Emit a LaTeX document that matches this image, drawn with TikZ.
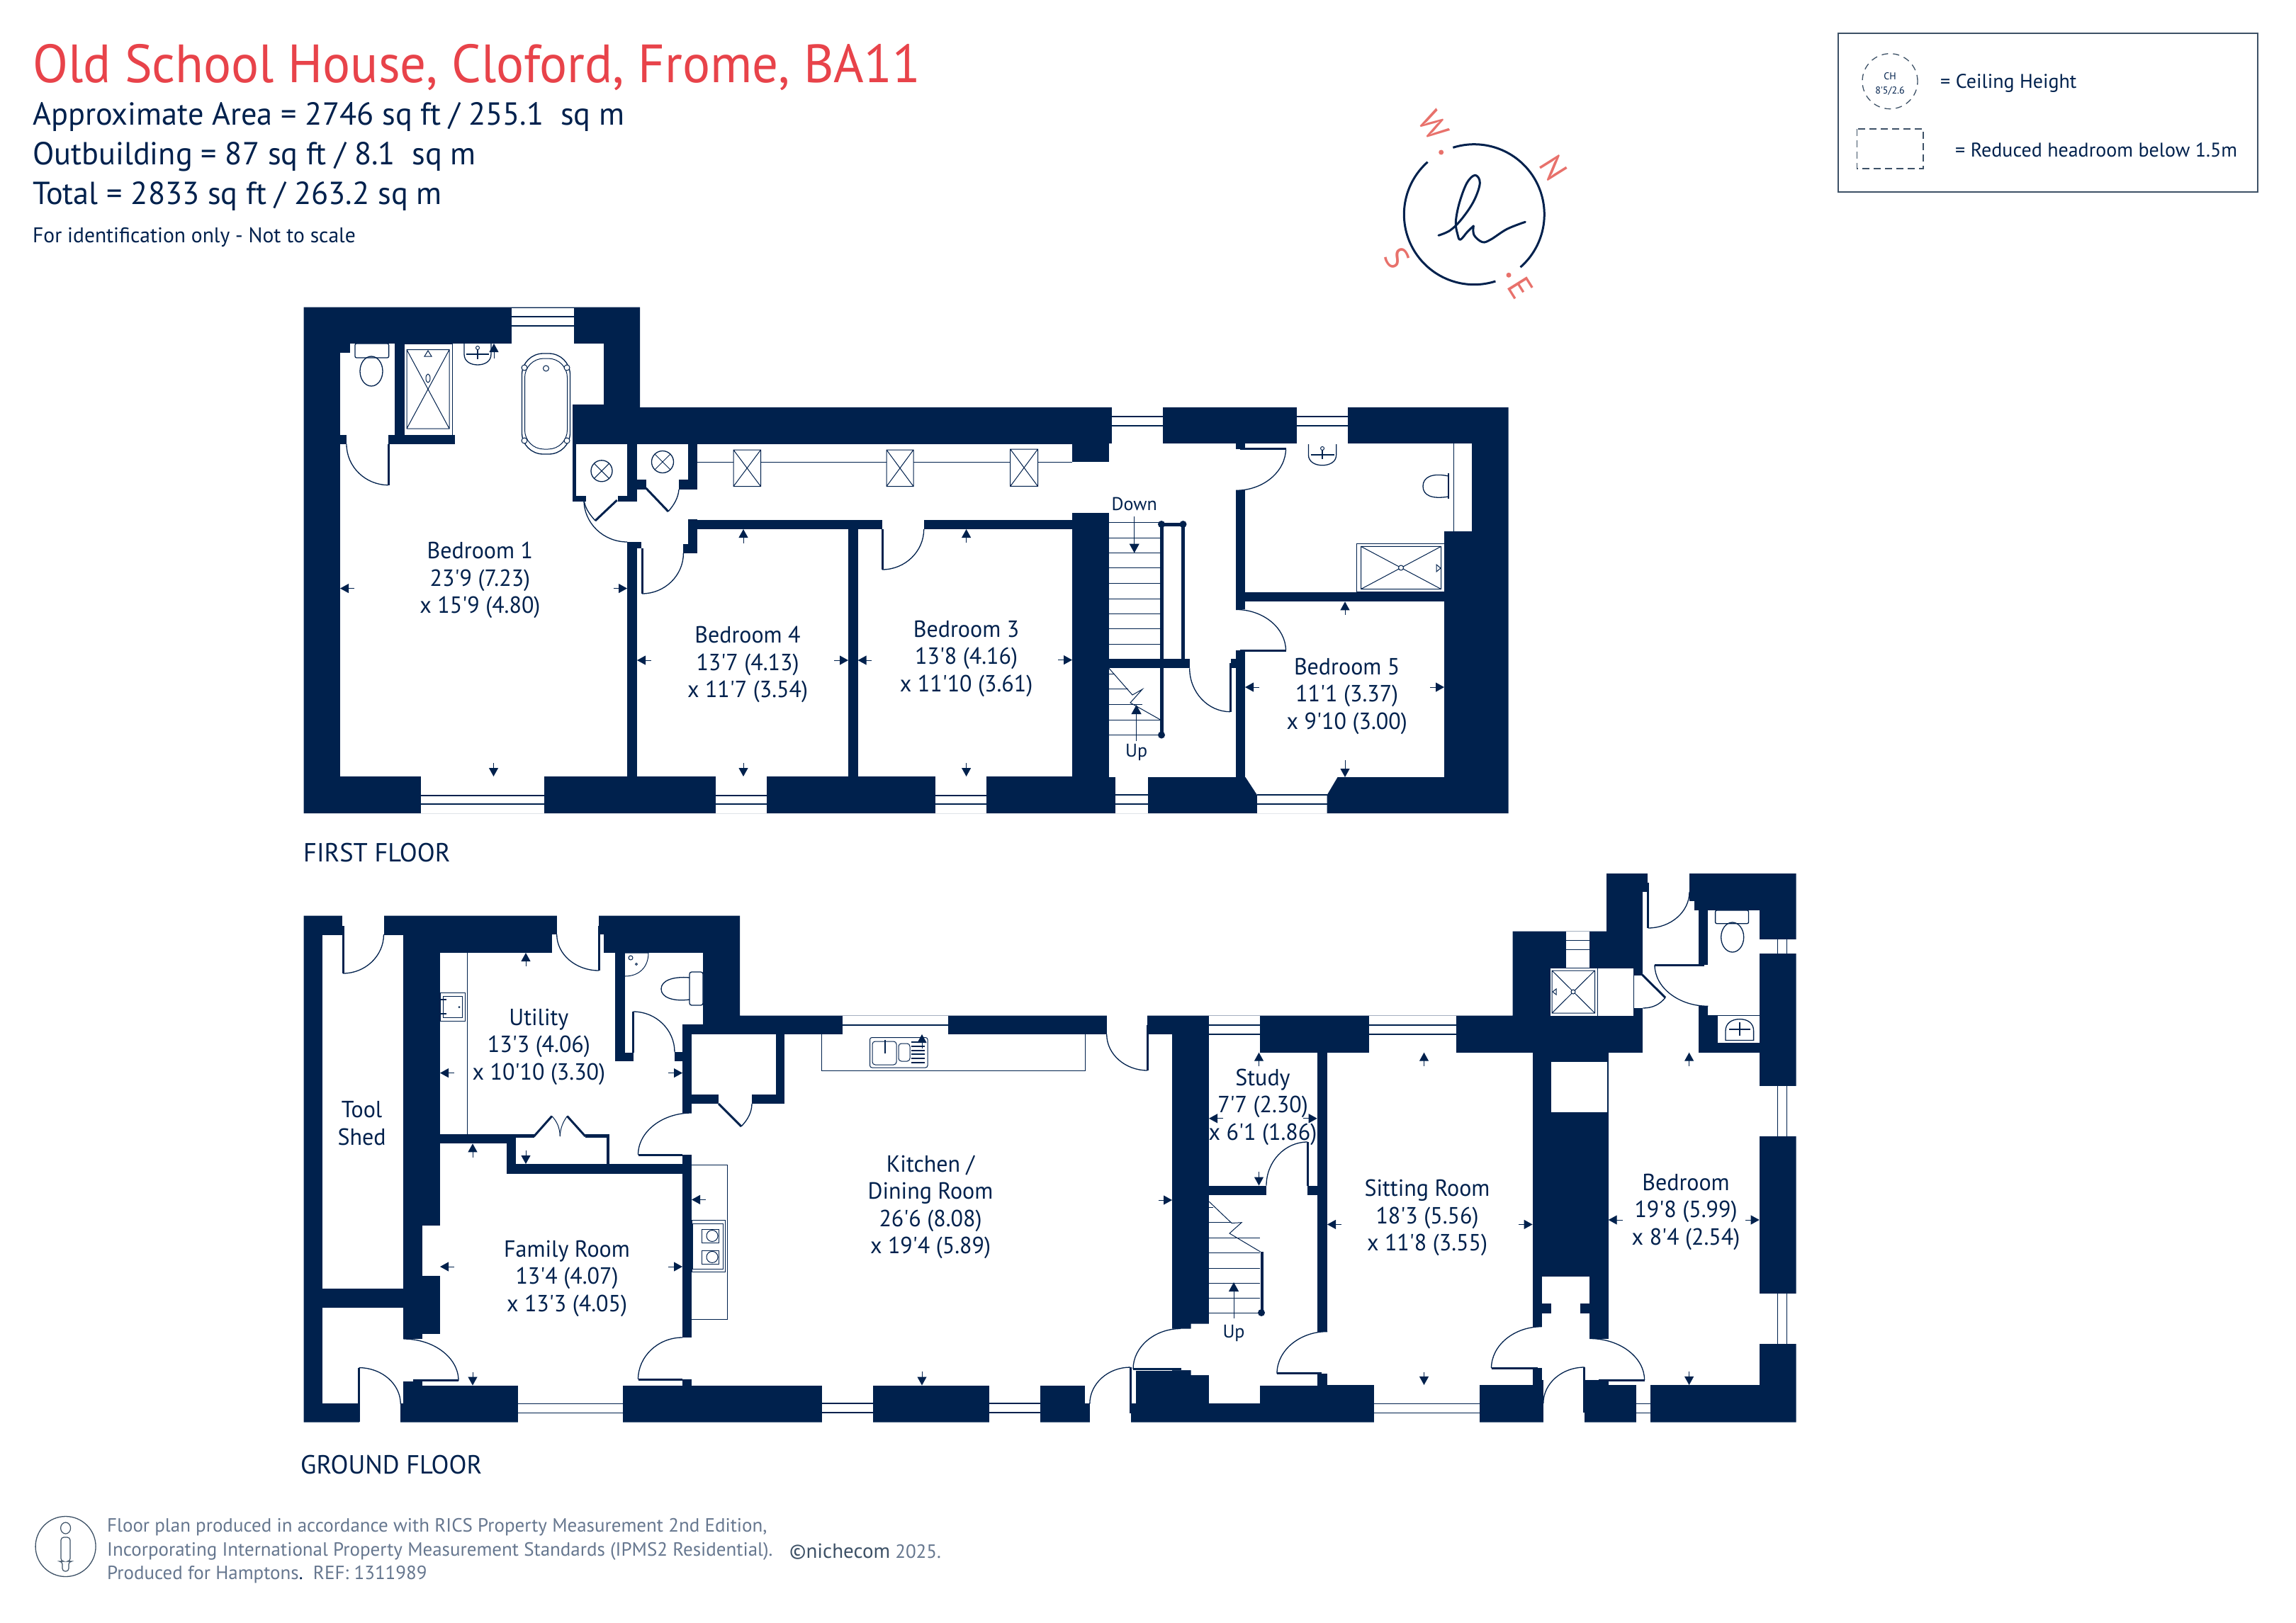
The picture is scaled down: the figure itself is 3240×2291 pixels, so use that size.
\documentclass[tikz,border=0pt]{standalone}
\usepackage{fontspec}
\usetikzlibrary{arrows.meta}
\newfontfamily\mainf{PT Sans}
\newfontfamily\labf[FakeStretch=0.97]{PT Sans}
\newfontfamily\titlef[FakeStretch=0.96]{PT Sans}
\newfontfamily\headf[FakeStretch=0.985]{PT Sans}
\definecolor{navy}{HTML}{00214D}
\definecolor{titlered}{HTML}{E8434A}
\definecolor{salmon}{HTML}{E8716B}
\definecolor{footgrey}{HTML}{66778F}
\definecolor{boxgrey}{HTML}{3D5166}
\tikzset{
 wall/.style={fill=navy},
 room/.style={fill=white},
 fine/.style={draw=navy,line width=1.3pt},
 hair/.style={draw=navy,line width=1pt},
 leaf/.style={draw=navy,line width=3pt},
 dimarrow/.style={draw=navy,line width=1pt,-{Triangle[length=12pt,width=13pt]}},
 lab/.style={text=navy,align=center,inner sep=0pt,yshift=-4.5pt,font=\labf\fontsize{33}{38.5}\selectfont},
 small/.style={text=navy,align=center,inner sep=0pt,font=\mainf\fontsize{26}{30}\selectfont},
 head/.style={text=navy,anchor=west,inner sep=0pt,yshift=-4pt,font=\headf\fontsize{45}{50}\selectfont},
 foot/.style={text=footgrey,anchor=west,inner sep=0pt,yshift=-4pt,font=\mainf\fontsize{27}{30}\selectfont},
 comp/.style={text=salmon,inner sep=0pt,rotate=-58,font=\mainf\fontsize{46}{50}\selectfont},
 legendtext/.style={text=navy,anchor=west,inner sep=0pt,yshift=-2.5pt,font=\mainf\fontsize{28}{30}\selectfont},
 floorname/.style={text=navy,anchor=west,inner sep=0pt,yshift=-3.5pt,font=\headf\fontsize{37}{40}\selectfont},
}
\newcommand\dm[4]{\draw[dimarrow] (#1,#2) -- (#3,#4);}
\newcommand\dH[4]{\draw[fine] (#1,#2) .. controls ({#1+.55*(#3-#1)},#2) and (#3,{#4+.55*(#2-#4)}) .. (#3,#4);}
\newcommand\dV[4]{\draw[fine] (#1,#2) .. controls (#1,{#2+.55*(#4-#2)}) and ({#3+.55*(#1-#3)},#4) .. (#3,#4);}
\newcommand\winH[6]{\fill[room] (#1,#2) rectangle (#3,#4);\draw[fine] (#1,#5) -- (#3,#5) (#1,#6) -- (#3,#6);}
\newcommand\winV[6]{\fill[room] (#1,#2) rectangle (#3,#4);\draw[fine] (#5,#2) -- (#5,#4) (#6,#2) -- (#6,#4);}
\newcommand\skyl[4]{\draw[hair] (#1,#2) rectangle (#3,#4) (#1,#2) -- (#3,#4) (#1,#4) -- (#3,#2);}
\newcommand\xcirc[3]{\draw[fine] (#1,#2) circle[radius=#3pt];\draw[hair] ({#1-.7*#3},{#2-.7*#3}) -- ({#1+.7*#3},{#2+.7*#3}) ({#1-.7*#3},{#2+.7*#3}) -- ({#1+.7*#3},{#2-.7*#3});}
\newcommand\shower[8]{\draw[hair,fill=white] (#1,#2) rectangle (#3,#4);\draw[hair] (#5,#6) rectangle (#7,#8) (#5,#6) -- (#7,#8) (#5,#8) -- (#7,#6);}
\newcommand\basin[4]{\draw[fine] (#1,#3) -- (#1,{#3+.5*(#4-#3)}) .. controls (#1,{#3+.85*(#4-#3)}) and ({#1+.25*(#2-#1)},#4) .. ({.5*(#1+#2)},#4) .. controls ({#1+.75*(#2-#1)},#4) and (#2,{#3+.85*(#4-#3)}) .. (#2,{#3+.5*(#4-#3)}) -- (#2,#3);\draw[fine] ({#1+.08*(#2-#1)},{#3+.5*(#4-#3)}) -- ({#2-.08*(#2-#1)},{#3+.5*(#4-#3)});\draw[leaf,line width=2pt] ({.5*(#1+#2)},{#3+.2*(#4-#3)}) -- ({.5*(#1+#2)},{#3+.72*(#4-#3)});\draw[hair,fill=white] ({.5*(#1+#2)},{#3+.2*(#4-#3)}) circle[radius=2.5pt];}
\begin{document}
\begin{tikzpicture}[x=1pt,y=-1pt]
\useasboundingbox (0,0) rectangle (3240,2291);
\fill[white] (0,0) rectangle (3240,2291);
% ---------- FIRST FLOOR ----------
\fill[wall] (428.7,433.6) -- (903,433.6) -- (903,575) -- (2128.5,575) -- (2128.5,1148) -- (428.7,1148) -- cycle;
\fill[room] (480,497.6) rectangle (808,1096);
\fill[room] (808,707.5) rectangle (885,1096);
\fill[room] (494,485) rectangle (851.5,570.7);
\fill[room] (813,627) rectangle (885,700);
\fill[room] (827,699) rectangle (872,707.6);
\fill[room] (899,627) rectangle (971,677);
\fill[room] (911.5,676) rectangle (958,691);
\fill[room] (899,690.5) rectangle (971,768);
\fill[room] (885,707.5) rectangle (899,768);
\fill[room] (971,691) rectangle (984,734);
\fill[room] (984,627) rectangle (1513,733.6);
\fill[room] (899,747) rectangle (1197,1096);
\fill[room] (1210.6,746.5) rectangle (1513,1096);
\fill[room] (1245,733) rectangle (1304,747);
\fill[room] (1513,652) rectangle (1565,724.4);
\fill[room] (1565,626) rectangle (1757,1097);
\fill[room] (1757,626) rectangle (2077,750);
\fill[room] (1757,750) rectangle (2038,835.5);
\fill[room] (1757,849) rectangle (2038,1097);
% walls over rooms
\fill[wall] (480,614) rectangle (489,627);
\fill[wall] (548,614) rectangle (642,627);
\fill[wall] (557,485) rectangle (570,614);
\fill[wall] (480,485) rectangle (494,497.6);
\fill[wall] (885,765) rectangle (905,774);
\fill[wall] (971,733) rectangle (984,781);
\fill[wall] (964,768) rectangle (984,781);
\fill[wall] (1744,692.3) rectangle (1757,860.4);
\fill[wall] (1744,917.7) rectangle (1757,1097);
\fill[wall] (1744,626) rectangle (1757,634);
\fill[wall] (1565,929.6) rectangle (1678.7,943.4);
\fill[wall] (1737,929.6) rectangle (1744,943.4);
% windows
\winH{722}{434.5}{810}{485}{447}{460}
\winH{594}{1096}{768}{1148}{1123}{1135}
\winH{1010}{1096}{1082}{1148}{1123}{1135}
\winH{1320}{1096}{1392}{1148}{1123}{1135}
\winH{1569}{575}{1641}{626.5}{588}{601}
\winH{1829.5}{575}{1902}{626.5}{588}{601}
\winH{1573.5}{1097}{1619.6}{1148}{1122}{1135}
\fill[room] (1757,1096) -- (1774,1122) -- (1774,1148) -- (1872.6,1148) -- (1872.6,1122) -- (1888,1096) -- cycle;
\draw[fine] (1774,1122) -- (1872.6,1122) (1774,1135) -- (1872.6,1135);
% fixtures bath
\draw[fine,fill=white,rounded corners=2pt] (501,485) rectangle (548.6,505);
\draw[fine] (524,524) ellipse[x radius=16pt,y radius=21pt];
\draw[hair] (570,485) -- (570,614) (638,485) -- (638,614) -- (570,614);
\shower{570}{485}{638}{614}{574}{493.7}{634}{605}
\draw[hair,fill=white] (604,534) ellipse[x radius=3pt,y radius=6pt];
\draw[hair] (599,503) -- (604,495) -- (609,503) -- cycle;
\basin{655}{693}{485}{515}
\draw[fine,rounded corners=30pt] (736.5,499) rectangle (804.5,641);
\draw[hair,rounded corners=27pt] (740.5,506) rectangle (800.5,634);
\foreach \a/\b in {740/519,800/519,740/622,800/622}{\draw[hair,fill=white] (\a,\b) circle[radius=4pt];}
\draw[hair] (770.5,520) circle[radius=4pt];
\xcirc{849}{664.8}{15}
\xcirc{935}{652}{15.5}
\skyl{1035}{635}{1073.5}{686.6}
\skyl{1251}{635}{1289}{686.6}
\skyl{1425.7}{634}{1464.5}{686.4}
\draw[hair] (984,652) -- (1035,652) (1073.5,652) -- (1251,652) (1289,652) -- (1425.7,652) (1464.5,652) -- (1513,652);
% doors first floor
\draw[leaf] (548,627) -- (548,684.7); \dH{548}{684.7}{489}{627}
\draw[leaf] (870.7,706) -- (840,735); \draw[fine] (840,735) .. controls (832,726) and (826,718) .. (824,706);
\dV{824}{706}{885}{765}
\draw[leaf] (911.5,689) -- (943,722); \draw[fine] (943,722) .. controls (951,713) and (957,703) .. (958,691);
\draw[leaf] (906,774) -- (906,838); \dH{906}{838}{964.4}{781}
\draw[leaf] (1245,747) -- (1245,804); \dH{1245}{804}{1303.7}{747}
\draw[leaf] (1750,633) -- (1814.5,633); \dV{1814.5}{633}{1744}{692.3}
\draw[leaf] (1750,918.5) -- (1814.5,918.5); \dV{1814.5}{918.5}{1744}{860.4}
\draw[leaf] (1736,935.5) -- (1736,1004.7); \dH{1736}{1004.7}{1678.7}{943.4}
% stairs first floor
\foreach \t in {737.8,759.6,780.5,801.9,823.6,845,866,887.7,909}{\draw[hair] (1565,\t) -- (1637,\t);}
\draw[hair] (1565,951) -- (1573,951) (1565,972.7) -- (1592,972.7) (1565,994) -- (1612,994) (1565,1016) -- (1637,1016) (1565,1037) -- (1637,1037);
\draw[hair] (1565,943.4) -- (1598,981) -- (1612,973) -- (1595,992) -- (1637.5,1016);
\draw[draw=navy,line width=5pt] (1639,740) -- (1639,1037.5);
\draw[draw=navy,line width=5pt] (1639,740) -- (1669.5,740) -- (1669.5,930);
\fill[navy] (1639,740) circle[radius=5pt] (1669.5,740) circle[radius=5pt] (1639,1037.5) circle[radius=5pt];
\draw[hair,-{Triangle[length=13pt,width=14pt]}] (1603.6,1046) -- (1603.6,995);
\draw[hair,-{Triangle[length=13pt,width=14pt]}] (1600.7,729) -- (1600.7,780.5);
\node[small] (up1) at (1603.6,1062) {Up};
\node[small] (down1) at (1600.7,711) {Down};
% bathroom
\draw[hair] (2051.5,626) -- (2051.5,750);
\draw[fine] (2044,668) -- (2044,704);
\draw[fine] (2044,672) .. controls (2020,667) and (2008,674) .. (2008,686.4) .. controls (2008,699) and (2020,705) .. (2044,701);
\shower{1914.3}{767.5}{2038.4}{835.5}{1920.6}{771.4}{2033.5}{831.5}
\draw[hair,fill=white] (1977,801.5) circle[radius=3.5pt];
\draw[hair] (2027,797) -- (2033,802) -- (2027,807) -- cycle;
\basin{1846.4}{1885.7}{627}{656.8}
% arrows first floor
\dm{500}{830.6}{480}{830.6} \dm{865.6}{830.6}{885}{830.6} \dm{697}{506}{697}{485} \dm{696.5}{1077}{696.5}{1096}
\dm{918.5}{932}{899}{932} \dm{1177}{932}{1197}{932} \dm{1049}{766.6}{1049}{747} \dm{1049}{1077}{1049}{1096}
\dm{1230}{932}{1210.6}{932} \dm{1493}{931.6}{1513}{931.6} \dm{1363.6}{766}{1363.6}{747} \dm{1363.6}{1077}{1363.6}{1096}
\dm{1777}{970}{1757}{970} \dm{2018}{970}{2038}{970} \dm{1898}{868}{1898}{849.3} \dm{1898}{1073}{1898}{1097}
% labels first floor
\node[lab] (bedone) at (677.4,814.5) {Bedroom 1\\23'9 (7.23)\\x 15'9 (4.80)};
\node[lab] (bedfour) at (1055,933.8) {Bedroom 4\\13'7 (4.13)\\x 11'7 (3.54)};
\node[lab] (bedthree) at (1363.6,925.4) {Bedroom 3\\13'8 (4.16)\\x 11'10 (3.61)};
\node[lab] (bedfive) at (1900.7,978.3) {Bedroom 5\\11'1 (3.37)\\x 9'10 (3.00)};
\node[floorname] (ffl) at (428,1200) {FIRST FLOOR};
% ---------- GROUND FLOOR ----------
\fill[wall] (428.5,1292.6) -- (1044,1292.6) -- (1044,1433.6) -- (2134.5,1433.6) -- (2134.5,1314.7) -- (2267,1314.7) -- (2267,1233) -- (2534.5,1233) -- (2534.5,2007.5) -- (428.5,2007.5) -- cycle;
\fill[room] (483,1292) rectangle (542,1320);
\fill[room] (455,1319.6) rectangle (569.4,1818.6);
\fill[room] (455,1845.6) rectangle (569.4,1981);
\fill[room] (506.5,1980) rectangle (565,2008);
\fill[room] (569.4,1890) rectangle (596,1950);
\fill[room] (596,1883) rectangle (621,1955.6);
\fill[room] (621,1656.5) rectangle (963,1955.6);
\fill[room] (621,1614.3) rectangle (715,1657);
\fill[room] (596,1730) rectangle (621,1801);
\fill[room] (621,1345) rectangle (963,1600.6);
\fill[room] (779,1319) rectangle (852,1345.5);
\fill[room] (785.7,1292) rectangle (845,1320);
\fill[room] (882,1345) rectangle (992,1446);
\fill[room] (882,1446) rectangle (963,1498);
\fill[room] (860,1600) rectangle (963,1643);
\fill[room] (728,1606.4) rectangle (856,1643);
\fill[room] (753.5,1600) rectangle (826,1607);
\fill[room] (975.8,1460) rectangle (1094.7,1545);
\fill[room] (1014,1544) rectangle (1061,1559);
\fill[room] (1107,1460) rectangle (1654,1955.5);
\fill[room] (975.8,1558.3) rectangle (1107.5,1955.5);
\fill[room] (963,1571) rectangle (976,1630);
\fill[room] (963,1888) rectangle (976,1947);
\fill[room] (1561.7,1433) rectangle (1619.4,1461);
\fill[room] (1531,1955) rectangle (1602.5,1981);
\fill[room] (1537.5,1980) rectangle (1596,2008);
\fill[room] (1654,1875.5) -- (1680.6,1875.5) -- (1680.6,1868.6) -- (1706,1868.6) -- (1706,1941) -- (1680.6,1941) -- (1680.6,1934) -- (1654,1934) -- cycle;
\fill[room] (1706,1686.5) rectangle (1858.7,1955.5);
\fill[room] (1706,1955) rectangle (1778,1981);
\fill[room] (1858,1879.6) rectangle (1873.5,1939);
\fill[room] (1873,1485.7) rectangle (2162.6,1955);
\fill[room] (1706,1485.7) rectangle (1858.7,1673.5);
\fill[room] (1787,1673) rectangle (1845,1687);
\fill[room] (2162,1872.7) rectangle (2176,1931.3);
\fill[room] (2175.5,1802) rectangle (2243.4,1840);
\fill[room] (2188.5,1840) rectangle (2230.4,1854);
\fill[room] (2175.5,1854) rectangle (2243.4,1948);
\fill[room] (2178,1947) rectangle (2236,2008);
\fill[room] (2243,1889.5) rectangle (2270,1948);
\fill[room] (2269.7,1485.7) rectangle (2482.7,1955);
\fill[room] (2188.5,1498.8) rectangle (2268.4,1570.4);
\fill[room] (2325,1233) rectangle (2384,1260);
\fill[room] (2318.4,1259) rectangle (2384,1285);
\fill[room] (2384,1272) rectangle (2391,1285);
\fill[room] (2318.4,1285) rectangle (2397,1486);
\fill[room] (2410.4,1285) rectangle (2482.7,1433.4);
\fill[room] (2396,1362) rectangle (2411,1420.3);
\fill[room] (2423.8,1433) rectangle (2482.7,1472);
\fill[room] (2187,1366.4) rectangle (2305,1434);
\fill[room] (2304,1377) rectangle (2319,1423);
% walls over rooms
\fill[wall] (868,1345) rectangle (882,1498);
\fill[wall] (868,1486) rectangle (893.6,1498);
\fill[wall] (952,1485) rectangle (963,1498);
\fill[wall] (715,1600.6) rectangle (753.5,1606.4);
\fill[wall] (826,1600.6) rectangle (860,1606.4);
\fill[wall] (856,1600.6) rectangle (860,1643);
\fill[wall] (1602.5,1935) rectangle (1654,1956);
% windows
\winH{730.6}{1955.6}{879}{2007.5}{1981.7}{1994.5}
\winH{1159.7}{1955.5}{1231.6}{2007.5}{1981}{1994}
\winH{1396}{1955.5}{1468}{2007.5}{1981}{1994}
\winH{1938.5}{1955}{2087.6}{2007.5}{1981.5}{1994.6}
\winH{2308.6}{1955}{2328.7}{2007.5}{1981.5}{1994.6}
\winH{1189}{1434}{1338}{1460}{1447}{1447}
\winH{1706}{1434}{1778}{1485.7}{1447}{1460}
\winH{1932}{1434}{2055.4}{1485.7}{1447}{1460}
\winH{2209.5}{1314.7}{2243}{1366.4}{1327.7}{1340.8}
\winV{2482.7}{1325.6}{2534.5}{1345.5}{2508.6}{2521.5}
\winV{2482.7}{1532.8}{2534.5}{1604.4}{2508.6}{2521.5}
\winV{2482.7}{1825.6}{2534.5}{1897.3}{2508.6}{2521.5}
% fixtures ground
\draw[hair] (659.4,1345) -- (659.4,1600.6);
\draw[hair] (621,1401.6) rectangle (656,1441) (625,1406.5) rectangle (652.5,1436);
\fill[navy] (648,1421.5) circle[radius=1.5pt];
\draw[fine] (621,1411) -- (630,1411) (621,1431) -- (630,1431);
\draw[hair] (882,1378) .. controls (902,1378) and (915,1365) .. (915,1345) -- (882,1345);
\draw[hair] (890,1352) circle[radius=3pt] (898,1361) circle[radius=1.5pt];
\draw[fine,fill=white,rounded corners=3pt] (973,1372) rectangle (992,1419);
\draw[fine] (973,1380) .. controls (950,1378) and (933,1384) .. (933,1396) .. controls (933,1408) and (950,1414) .. (973,1411);
\draw[hair] (1159,1460) -- (1159,1511) -- (1531,1511) -- (1531,1460);
\draw[hair,rounded corners=3pt] (1227.5,1464.5) rectangle (1309,1507);
\draw[hair,rounded corners=4pt] (1231,1470) rectangle (1265,1503);
\draw[hair,rounded corners=4pt] (1268,1473) rectangle (1284,1498);
\foreach \t in {1471,1477,1483,1488,1494,1500}{\draw[hair,line width=1.6pt] (1286,\t) -- (1305,\t);}
\draw[leaf,line width=2pt] (1249,1468) -- (1249,1487);
\draw[hair] (976,1644) -- (1026,1644) -- (1026,1862) -- (976,1862);
\draw[hair] (976,1722) rectangle (1023,1795.5) (977.6,1727) rectangle (1020.7,1791.6);
\draw[hair] (990,1735) rectangle (1014,1754) (990,1765) rectangle (1014,1784);
\draw[hair,fill=white] (1005,1744.5) circle[radius=8pt] (1005,1774.4) circle[radius=8pt];
% utility cupboard doors
\draw[leaf] (753.5,1604) -- (778.8,1575.5);
\draw[leaf] (800.4,1575.5) -- (826,1604);
\draw[hair] (778.8,1575.5) .. controls (786,1583) and (790,1592) .. (790.3,1604);
\draw[hair] (800.4,1575.5) .. controls (795,1583) and (790.6,1592) .. (790.3,1604);
% doors ground
\draw[leaf] (484,1307) -- (484,1374); \dH{484}{1374}{541.5}{1319}
\draw[leaf] (845,1307) -- (845,1370); \dH{845}{1370}{785.7}{1319}
\draw[leaf] (893.6,1428) -- (893.6,1486); \dH{893.6}{1428}{952}{1485}
\draw[leaf] (900.5,1630) -- (963,1630); \dV{900.5}{1630}{975.8}{1571}
\draw[leaf] (900.5,1947) -- (963,1947); \dV{900.5}{1947}{963}{1888}
\draw[leaf] (583,1948.8) -- (647,1948.8); \dV{647}{1948.8}{569.4}{1890}
\draw[leaf] (506.5,1930.6) -- (506.5,2007); \dH{506.5}{1930.6}{565.3}{1982}
\draw[leaf] (1014,1558) -- (1046,1590); \draw[fine] (1046,1590) .. controls (1055,1581) and (1061,1570) .. (1061,1558);
\draw[leaf] (1619.4,1447) -- (1619.4,1511); \dH{1619.4}{1511}{1561.7}{1460}
\draw[leaf] (1595,1930) -- (1595,1995); \dH{1595}{1930}{1537.8}{1981.6}
\draw[leaf] (1599,1932.6) -- (1667,1932.6); \dV{1599}{1932.6}{1666}{1875.5}
\draw[leaf] (1845,1612) -- (1845,1673.5); \dH{1845}{1612}{1787}{1673.5}
\draw[leaf] (1802,1938.8) -- (1865,1938.8); \dV{1802}{1938.8}{1873}{1879.6}
\draw[leaf] (2104.5,1931.3) -- (2170,1931.3); \dV{2104.5}{1931.3}{2175.5}{1872.7}
\draw[leaf] (2256,1948) -- (2320.6,1948); \dV{2320.6}{1948}{2243.4}{1889.5}
\draw[leaf] (2235.8,1930) -- (2235.8,1994); \dH{2235.8}{1930}{2177.8}{1981}
\draw[leaf] (2325.5,1246) -- (2325.5,1310); \dH{2325.5}{1310}{2384}{1259}
\draw[leaf] (2335,1362) -- (2404.5,1362); \dV{2335}{1362}{2410.4}{1420.3}
\draw[leaf] (2317.5,1376) -- (2350,1408.3); \draw[fine] (2350,1408.3) .. controls (2342,1418) and (2332,1423) .. (2318.4,1423);
% stairs ground
\foreach \t in {1747,1768,1790,1811,1832,1853}{\draw[hair] (1706,\t) -- (1778,\t);}
\draw[hair] (1706,1704) -- (1712,1704) (1706,1725) -- (1738,1725);
\draw[hair] (1706,1696) -- (1738,1726.5) -- (1752,1725.7) -- (1735,1741) -- (1778.6,1767);
\draw[draw=navy,line width=4pt] (1780.5,1767) -- (1780.5,1853);
\fill[navy] (1780,1853) circle[radius=5pt];
\draw[hair,-{Triangle[length=13pt,width=14pt]}] (1741,1861) -- (1741,1810);
\node[small] (up2) at (1741,1882) {Up};
% annexe fixtures
\draw[hair] (2187,1366.4) rectangle (2305,1434);
\shower{2187}{1366.4}{2254}{1434}{2190}{1370}{2250.5}{1430}
\draw[hair,fill=white] (2220,1400) circle[radius=3pt];
\draw[hair] (2196,1396) -- (2191,1400) -- (2196,1404) -- cycle;
\draw[fine,fill=white,rounded corners=2pt] (2420.6,1285) rectangle (2467.5,1303.7);
\draw[fine] (2444.7,1323) ellipse[x radius=16pt,y radius=21pt];
\draw[hair] (2423.8,1433.4) -- (2482.7,1433.4);
\draw[fine] (2435,1468.4) -- (2435,1455) .. controls (2435,1445) and (2443,1438.6) .. (2455,1438.6) .. controls (2467,1438.6) and (2474.6,1445) .. (2474.6,1455) -- (2474.6,1468.4) -- cycle;
\draw[fine] (2440,1453) -- (2470,1453);
\draw[leaf,line width=2pt] (2455,1443) -- (2455,1462);
\draw[hair] (2423.8,1472) -- (2482.7,1472);
% arrows ground
\dm{641}{1514.6}{621}{1514.6} \dm{943}{1514.6}{963}{1514.6} \dm{742}{1364}{742}{1345} \dm{742}{1623.6}{742}{1643}
\dm{641}{1788}{621}{1788} \dm{943}{1788}{963}{1788} \dm{667}{1633.5}{667}{1614.3} \dm{667}{1937}{667}{1955.6}
\dm{996}{1693.4}{976}{1693.4} \dm{1634.7}{1694}{1654}{1694} \dm{1301}{1479.6}{1301}{1460} \dm{1301}{1936}{1301}{1955.5}
\dm{1726}{1578.8}{1706}{1578.8} \dm{1839}{1578.8}{1858.7}{1578.8} \dm{1776.5}{1505}{1776.5}{1485.7} \dm{1776.5}{1654}{1776.5}{1673.5}
\dm{1893}{1728.4}{1873}{1728.4} \dm{2143}{1728.4}{2162.6}{1728.4} \dm{2009.5}{1505}{2009.5}{1485.7} \dm{2009.5}{1936.5}{2009.5}{1955}
\dm{2290}{1722}{2269.7}{1722} \dm{2463}{1722}{2482.7}{1722} \dm{2383.6}{1505}{2383.6}{1485.7} \dm{2383.6}{1936}{2383.6}{1955}
% labels ground
\node[lab] (utility) at (760.4,1473) {Utility\\13'3 (4.06)\\x 10'10 (3.30)};
\node[lab] (shed) at (510.6,1581) {Tool\\Shed};
\node[lab] (family) at (800,1800) {Family Room\\13'4 (4.07)\\x 13'3 (4.05)};
\node[lab] (kitchen) at (1313,1699.5) {Kitchen /\\Dining Room\\26'6 (8.08)\\x 19'4 (5.89)};
\node[lab] (study) at (1782,1558) {Study\\7'7 (2.30)\\x 6'1 (1.86)};
\node[lab] (sitting) at (2014,1714.5) {Sitting Room\\18'3 (5.56)\\x 11'8 (3.55)};
\node[lab] (annexe) at (2379,1706) {Bedroom\\19'8 (5.99)\\x 8'4 (2.54)};
\node[floorname] (gfl) at (424,2064) {GROUND FLOOR};
% ---------- HEADER ----------
\node[text=titlered,anchor=west,inner sep=0pt,yshift=-4pt,font=\titlef\fontsize{76}{80}\selectfont] (title) at (46,91) {Old School House, Cloford, Frome, BA11};
\node[head] (areaone) at (46,161) {Approximate Area = 2746 sq ft / 255.1\ \ sq m};
\node[head] (areatwo) at (46,217) {Outbuilding = 87 sq ft / 8.1\ \ sq m};
\node[head] (areathree) at (46,273) {Total = 2833 sq ft / 263.2 sq m};
\node[text=navy,anchor=west,inner sep=0pt,yshift=-4pt,font=\headf\fontsize{30}{32}\selectfont] (ident) at (46,331) {For identification only - Not to scale};
% ---------- COMPASS ----------
\draw[navy,line width=3pt] plot[domain=-107.6:48.8,samples=70] ({2080.3+99*cos(\x)},{302.7+99*sin(\x)});
\draw[navy,line width=3pt] plot[domain=72.3:228.4,samples=70] ({2080.3+99*cos(\x)},{302.7+99*sin(\x)});
\fill[salmon] (2033.7,215) circle[radius=3.5pt] (2129,388.3) circle[radius=3.5pt];
\node[comp] (n) at (2192.7,237.3) {N};
\node[comp] (e) at (2145.7,406) {E};
\node[comp] (s) at (1971.7,364) {S};
\node[comp] (w) at (2022.7,177.3) {W};
\begin{scope}[shift={(1900,130)},x=.3333pt,y=-.3333pt]
\draw[navy,line width=3pt,line cap=round,line join=round] plot[smooth,tension=.6] coordinates {(390,607) (440,585) (490,535) (540,460) (565,385) (545,352) (510,385) (478,470) (463,550) (470,600) (482,625) (512,592) (538,567)};
\draw[navy,line width=3pt,line cap=round] plot[smooth,tension=.6] coordinates {(538,567) (540,605) (575,635) (610,625) (680,580) (757,550)};
\end{scope}
% ---------- LEGEND ----------
\draw[boxgrey,line width=2pt] (2593.5,47.3) rectangle (3186,271);
\draw[boxgrey,line width=1.3pt,dash pattern=on 9pt off 7pt] (2667,114.7) circle[radius=39pt];
\node[text=navy,inner sep=0pt,align=center,yshift=-2pt,font=\mainf\fontsize{14}{20}\selectfont] (ch) at (2667,116.7) {CH\\8'5/2.6};
\node[legendtext] (ceil) at (2738,115) {= Ceiling Height};
\draw[boxgrey,line width=1.3pt,dash pattern=on 10pt off 6pt] (2620.4,182) rectangle (2714,238);
\node[legendtext] (headr) at (2759,209) {= Reduced headroom below 1.5m};
% ---------- FOOTER ----------
\draw[boxgrey,line width=1.3pt] (92.6,2183) circle[radius=42.5pt];
\draw[boxgrey,line width=1.2pt] (92.6,2157) ellipse[x radius=7pt,y radius=8pt];
\draw[boxgrey,line width=1.2pt,rounded corners=4pt] (86,2204) -- (86,2170) -- (99,2170) -- (99,2204) -- (97,2204) -- (97,2218) -- (88,2218) -- (88,2204) -- cycle;
\node[foot] (fa) at (151,2152) {Floor plan produced in accordance with RICS Property Measurement 2nd Edition,};
\node[foot] (fb) at (151,2186) {Incorporating International Property Measurement Standards (IPMS2 Residential).};
\node[foot] (fc) at (151,2219) {Produced for Hamptons{\color{navy}.}\ \ REF: 1311989};
\node[foot] (fd) at (1114,2186) {{\color{boxgrey}\fontsize{29}{30}\selectfont ©nichecom} 2025.};
\end{tikzpicture}
\end{document}
